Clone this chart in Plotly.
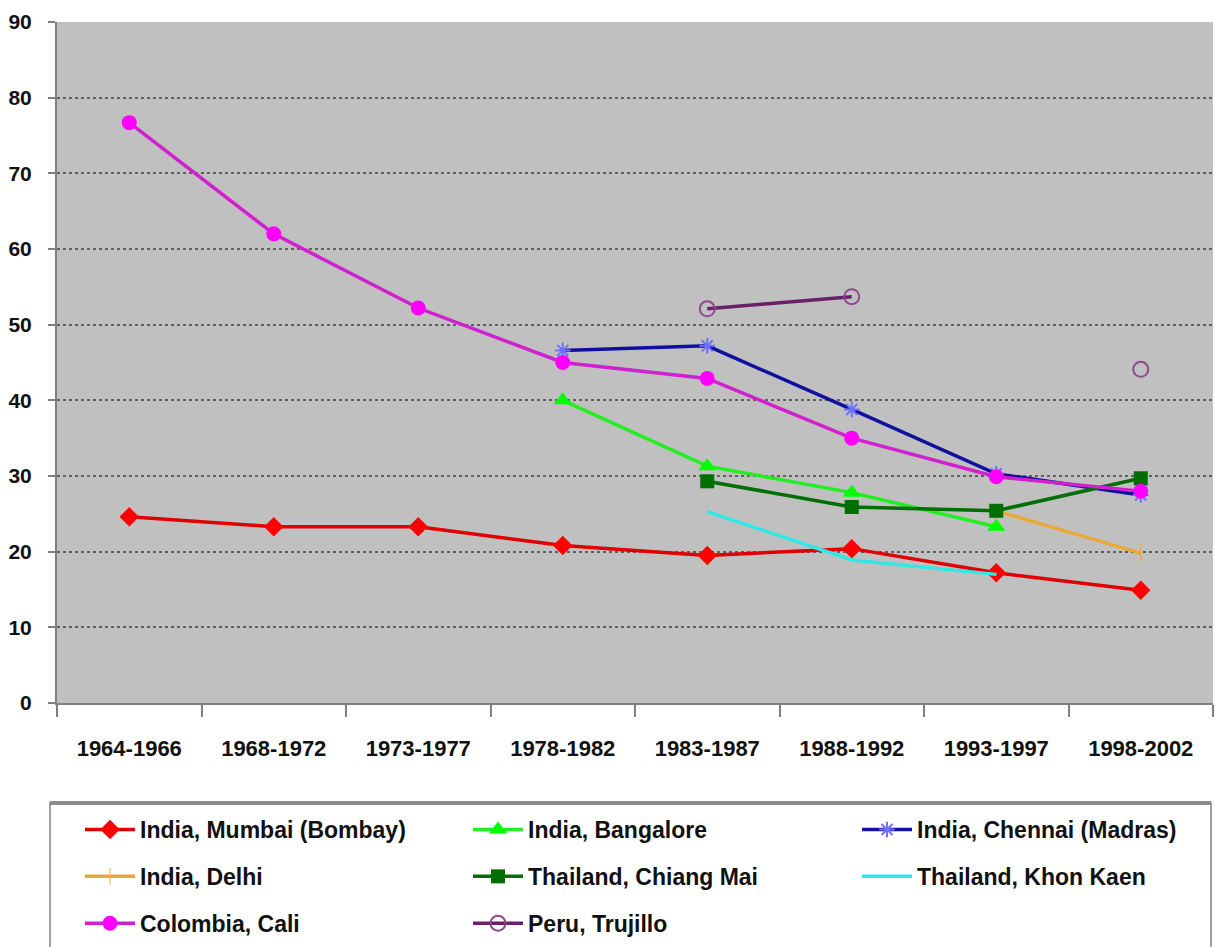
import plotly.graph_objects as go

# Figure geometry (pixels)
W, H = 1215, 947
ML, MR, MT, MB = 57, 2, 22, 244

periods = ["1964-1966", "1968-1972", "1973-1977", "1978-1982",
           "1983-1987", "1988-1992", "1993-1997", "1998-2002"]

mumbai     = [24.6, 23.3, 23.3, 20.8, 19.5, 20.4, 17.2, 14.9]
bangalore  = [None, None, None, 40.0, 31.3, 27.8, 23.3, None]
chennai    = [None, None, None, 46.6, 47.2, 38.8, 30.3, 27.5]
delhi      = [None, None, None, None, None, None, 25.4, 19.8]
chiang_mai = [None, None, None, None, 29.3, 25.9, 25.4, 29.7]
khon_kaen  = [None, None, None, None, 25.3, 18.9, 17.0, None]
cali       = [76.7, 62.0, 52.2, 45.0, 42.9, 35.0, 29.9, 28.0]
trujillo   = [None, None, None, None, 52.1, 53.7, None, 44.1]

y_ticks = [0, 10, 20, 30, 40, 50, 60, 70, 80, 90]

FONT = "Liberation Sans, Arial, sans-serif"


def paper_x(px):
    return (px - ML) / (W - ML - MR)


def paper_y(py):
    return (H - MB - py) / (H - MT - MB)


series = [
    ("India, Mumbai (Bombay)", mumbai, "#E00000",
     dict(symbol="diamond", size=15, color="#FF0000"), "legend"),
    ("India, Bangalore", bangalore, "#22EE22",
     dict(symbol="triangle-up", size=16, color="#00FF00"), "legend2"),
    ("India, Chennai (Madras)", chennai, "#1010A0",
     dict(symbol="asterisk-open", size=13, color="#7070FF",
          line=dict(width=2, color="#7070FF")), "legend3"),
    ("India, Delhi", delhi, "#E9A93A",
     dict(symbol="line-ns-open", size=12, color="#E9A93A",
          line=dict(width=1, color="#E9A93A")), "legend"),
    ("Thailand, Chiang Mai", chiang_mai, "#006E00",
     dict(symbol="square", size=14, color="#006E00"), "legend2"),
    ("Thailand, Khon Kaen", khon_kaen, "#33E6E6",
     dict(symbol="line-ns-open", size=1, color="#33E6E6",
          line=dict(width=0, color="#33E6E6")), "legend3"),
    ("Colombia, Cali", cali, "#D020D0",
     dict(symbol="circle", size=15, color="#FF00FF"), "legend"),
    ("Peru, Trujillo", trujillo, "#6B1F6B",
     dict(symbol="circle-open", size=15, color="#8B4A8B",
          line=dict(width=2, color="#8B4A8B")), "legend2"),
]

fig = go.Figure()
for name, vals, lc, mk, lg in series:
    fig.add_trace(go.Scatter(
        x=periods, y=vals, name=name, mode="lines+markers",
        line=dict(color=lc, width=3.5), marker=mk,
        legend=lg, legendgroup=name, connectgaps=False,
    ))

legend_common = dict(
    orientation="v", xanchor="left", yanchor="top",
    bgcolor="rgba(0,0,0,0)", borderwidth=0,
    font=dict(family=FONT, size=23, color="#111111", weight="bold"),
    itemwidth=50, tracegroupgap=14, itemclick=False,
)

fig.update_layout(
    width=W, height=H,
    margin=dict(l=ML, r=MR, t=MT, b=MB, pad=0),
    paper_bgcolor="white", plot_bgcolor="#C0C0C0",
    showlegend=True,
    font=dict(family=FONT, color="#111111"),
    legend=dict(x=paper_x(80), y=paper_y(808), **legend_common),
    legend2=dict(x=paper_x(468), y=paper_y(808), **legend_common),
    legend3=dict(x=paper_x(857), y=paper_y(808), **legend_common),
    xaxis=dict(
        type="category", tickson="boundaries", ticks="outside",
        ticklen=12, tickwidth=2, tickcolor="#808080",
        showline=True, linecolor="#808080", linewidth=2,
        showgrid=False, zeroline=False,
        tickfont=dict(family=FONT, size=22, color="#111111", weight="bold"),
        ticklabelstandoff=25,
        range=[-0.5, len(periods) - 0.5],
    ),
    yaxis=dict(
        range=[0, 90], tickvals=y_ticks, ticks="outside",
        ticklen=7, tickwidth=2, tickcolor="#808080",
        showline=True, linecolor="#808080", linewidth=2,
        showgrid=True, gridcolor="#606060", gridwidth=2, griddash="dot",
        zeroline=False,
        tickfont=dict(family=FONT, size=21, color="#111111", weight="bold"),
        ticklabelstandoff=12,
    ),
    shapes=[
        # legend frame
        dict(type="rect", xref="paper", yref="paper",
             x0=paper_x(50), x1=paper_x(1211), y0=paper_y(960), y1=paper_y(803),
             line=dict(color="#A0A0A0", width=2), fillcolor="rgba(0,0,0,0)",
             layer="above"),
        dict(type="line", xref="paper", yref="paper",
             x0=paper_x(50), x1=paper_x(1211), y0=paper_y(803), y1=paper_y(803),
             line=dict(color="#8C8C8C", width=4), layer="above"),
    ],
)

fig.write_html("out.html")
